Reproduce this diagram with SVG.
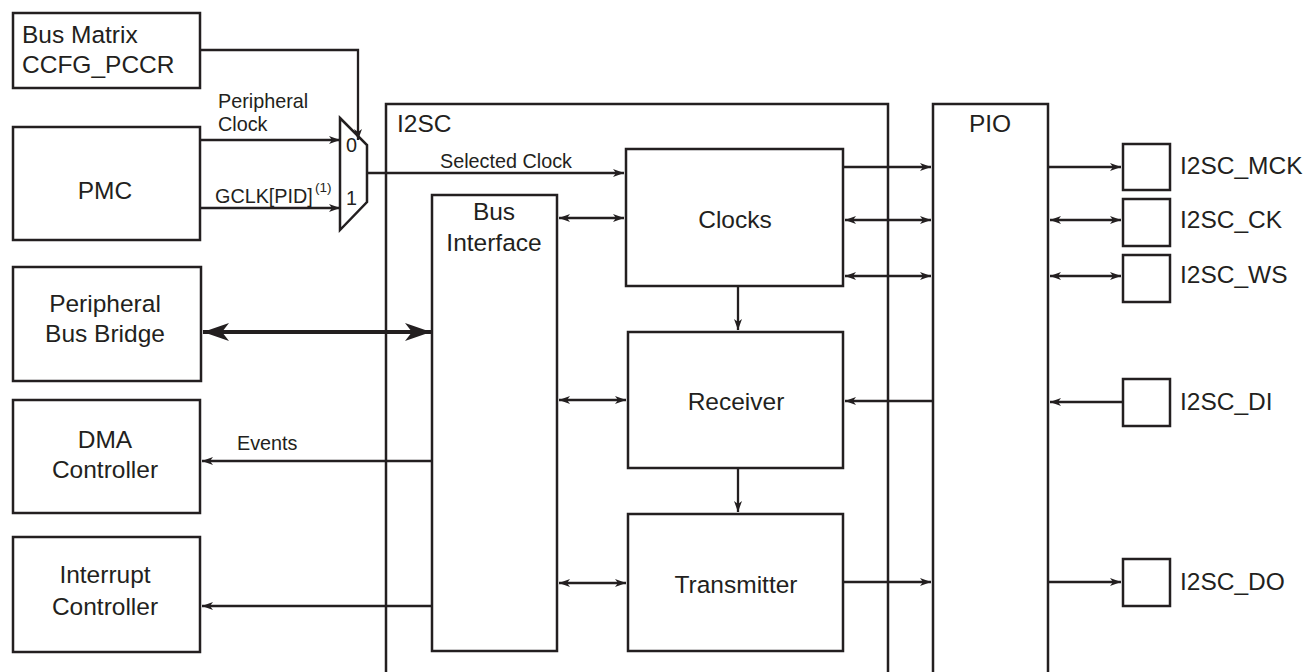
<svg xmlns="http://www.w3.org/2000/svg" width="1310" height="672" viewBox="0 0 1310 672">
<style>
.box{fill:#fff;stroke:#231f20;stroke-width:2.5}
.ln{fill:none;stroke:#231f20;stroke-width:2.3}
.t{font-family:"Liberation Sans",Arial,sans-serif;font-size:24.5px;fill:#231f20}
.s{font-family:"Liberation Sans",Arial,sans-serif;font-size:19.8px;fill:#231f20}
.m{text-anchor:middle}
</style>
<defs>
<marker id="a" markerUnits="userSpaceOnUse" markerWidth="12" markerHeight="10" refX="11" refY="4" orient="auto-start-reverse">
<path d="M0,0 L11,4 L0,8 L3,4 z" fill="#231f20"/>
</marker>
<marker id="b" markerUnits="userSpaceOnUse" markerWidth="28" markerHeight="20" refX="26" refY="9" orient="auto-start-reverse">
<path d="M0,0 L26,9 L0,18 L7,9 z" fill="#231f20"/>
</marker>
</defs>

<g id="bus-matrix"><rect class="box" x="13" y="13" width="187" height="75"/><text class="t" x="22" y="43">Bus Matrix</text><text class="t" x="22" y="73">CCFG_PCCR</text></g>
<g id="pmc"><rect class="box" x="13" y="127" width="187" height="113"/><text class="t m" x="105" y="199">PMC</text></g>
<g id="bridge"><rect class="box" x="13" y="267" width="188" height="114"/><text class="t m" x="105" y="312">Peripheral</text><text class="t m" x="105" y="342">Bus Bridge</text></g>
<g id="dma"><rect class="box" x="13" y="400" width="187" height="113"/><text class="t m" x="105" y="448">DMA</text><text class="t m" x="105" y="478">Controller</text></g>
<g id="intc"><rect class="box" x="13" y="537" width="187" height="115"/><text class="t m" x="105" y="583">Interrupt</text><text class="t m" x="105" y="615">Controller</text></g>

<g id="mux"><path class="box" d="M340,118 L367,145 L367,202 L340,230 Z"/><text class="s" x="346" y="152">0</text><text class="s" x="346" y="205">1</text></g>

<g id="i2sc"><path class="box" d="M386,680 L386,104 L888,104 L888,680"/><text class="t" x="397" y="132">I2SC</text></g>
<g id="bus-interface"><rect class="box" x="432" y="195" width="125" height="456"/><text class="t m" x="494" y="220">Bus</text><text class="t m" x="494" y="251">Interface</text></g>
<g id="clocks"><rect class="box" x="626" y="149" width="217" height="137"/><text class="t m" x="735" y="228">Clocks</text></g>
<g id="receiver"><rect class="box" x="628" y="332" width="215" height="136"/><text class="t m" x="736" y="410">Receiver</text></g>
<g id="transmitter"><rect class="box" x="628" y="514" width="215" height="137"/><text class="t m" x="736" y="593">Transmitter</text></g>
<g id="pio"><path class="box" d="M933,680 L933,104 L1048,104 L1048,680"/><text class="t m" x="990" y="132">PIO</text></g>

<g id="pin-mck"><rect class="box" x="1123" y="144" width="47" height="46"/><text class="t" x="1180" y="174">I2SC_MCK</text></g>
<g id="pin-ck"><rect class="box" x="1123" y="199" width="47" height="47"/><text class="t" x="1180" y="228">I2SC_CK</text></g>
<g id="pin-ws"><rect class="box" x="1123" y="255" width="47" height="47"/><text class="t" x="1180" y="283">I2SC_WS</text></g>
<g id="pin-di"><rect class="box" x="1123" y="379" width="47" height="47"/><text class="t" x="1180" y="410">I2SC_DI</text></g>
<g id="pin-do"><rect class="box" x="1123" y="559" width="47" height="47"/><text class="t" x="1180" y="590">I2SC_DO</text></g>

<g id="connectors">
<path class="ln" d="M200,50 L358,50 L358,140" marker-end="url(#a)"/>
<path class="ln" d="M200,140 L340,140" marker-end="url(#a)"/>
<text class="s" x="218" y="108">Peripheral</text><text class="s" x="218" y="131">Clock</text>
<path class="ln" d="M200,208 L340,208" marker-end="url(#a)"/>
<text class="s" x="215" y="203">GCLK[PID]</text><text x="315" y="192" style="font-family:'Liberation Sans',Arial,sans-serif;font-size:13.5px;fill:#231f20">(1)</text>
<path class="ln" d="M367,173 L624,173" marker-end="url(#a)"/>
<text class="s" x="440" y="168">Selected Clock</text>
<path class="ln" d="M559,218 L624,218" marker-start="url(#a)" marker-end="url(#a)"/>
<path d="M203,332 L431,332" fill="none" stroke="#231f20" stroke-width="4" marker-start="url(#b)" marker-end="url(#b)"/>
<path class="ln" d="M432,461 L202,461" marker-end="url(#a)"/>
<text class="s" x="237" y="450">Events</text>
<path class="ln" d="M432,606 L202,606" marker-end="url(#a)"/>
<path class="ln" d="M738,286 L738,330" marker-end="url(#a)"/>
<path class="ln" d="M738,468 L738,512" marker-end="url(#a)"/>
<path class="ln" d="M559,400 L626,400" marker-start="url(#a)" marker-end="url(#a)"/>
<path class="ln" d="M559,583 L626,583" marker-start="url(#a)" marker-end="url(#a)"/>
<path class="ln" d="M843,167 L931,167" marker-end="url(#a)"/>
<path class="ln" d="M845,220 L931,220" marker-start="url(#a)" marker-end="url(#a)"/>
<path class="ln" d="M845,276 L931,276" marker-start="url(#a)" marker-end="url(#a)"/>
<path class="ln" d="M933,401 L845,401" marker-end="url(#a)"/>
<path class="ln" d="M843,582 L931,582" marker-end="url(#a)"/>
<path class="ln" d="M1048,167 L1121,167" marker-end="url(#a)"/>
<path class="ln" d="M1050,220 L1121,220" marker-start="url(#a)" marker-end="url(#a)"/>
<path class="ln" d="M1050,276 L1121,276" marker-start="url(#a)" marker-end="url(#a)"/>
<path class="ln" d="M1123,402 L1050,402" marker-end="url(#a)"/>
<path class="ln" d="M1048,582 L1121,582" marker-end="url(#a)"/>
</g>
</svg>
